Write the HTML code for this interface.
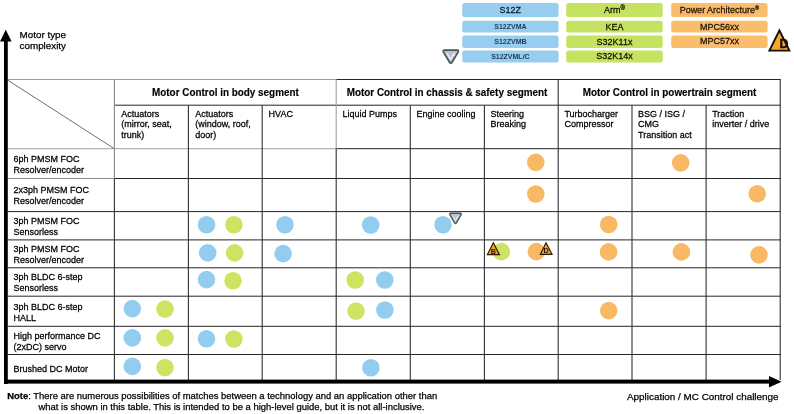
<!DOCTYPE html>
<html><head><meta charset="utf-8"><style>
html,body{margin:0;padding:0;background:#fff;}
body{width:794px;height:414px;overflow:hidden;position:relative;}
svg{position:absolute;left:0;top:0;filter:blur(0.3px);}
text{font-family:"Liberation Sans",sans-serif;}
</style></head><body>
<svg width="794" height="414" viewBox="0 0 794 414">

<g>
<rect x="462.2" y="3.1" width="96.4" height="14.0" rx="2.5" fill="#97cdee"/>
<rect x="462.2" y="20.8" width="96.4" height="11.6" rx="2.5" fill="#97cdee"/>
<rect x="462.2" y="35.6" width="96.4" height="12.3" rx="2.5" fill="#97cdee"/>
<rect x="462.2" y="50.6" width="96.4" height="11.8" rx="2.5" fill="#97cdee"/>
<rect x="566.2" y="3.1" width="96.5" height="14.0" rx="2.5" fill="#c5e260"/>
<rect x="566.2" y="20.8" width="96.5" height="11.6" rx="2.5" fill="#c5e260"/>
<rect x="566.2" y="35.6" width="96.5" height="12.3" rx="2.5" fill="#c5e260"/>
<rect x="566.2" y="50.6" width="96.5" height="11.8" rx="2.5" fill="#c5e260"/>
<rect x="671.2" y="3.1" width="96.4" height="14.0" rx="2.5" fill="#fabd6c"/>
<rect x="671.2" y="20.8" width="96.4" height="11.6" rx="2.5" fill="#fabd6c"/>
<rect x="671.2" y="35.6" width="96.4" height="12.3" rx="2.5" fill="#fabd6c"/>
</g>
<g fill="#0a2238" stroke="#0a2238" stroke-width="0.25" text-anchor="middle">
<text transform="translate(510.2,13.0) scale(1,1.08)" font-size="9">S12Z</text>
<text x="510.4" y="28.8" font-size="7" font-weight="bold" stroke-width="0" fill="#1c3a58" class="ns">S12ZVMA</text>
<text x="510.4" y="43.9" font-size="7" font-weight="bold" stroke-width="0" fill="#1c3a58" class="ns">S12ZVMB</text>
<text x="510.4" y="58.8" font-size="7" font-weight="bold" stroke-width="0" fill="#1c3a58" class="ns">S12ZVML/C</text>
</g>
<g fill="#0f1205" stroke="#0f1205" stroke-width="0.25" text-anchor="middle" font-size="9">
<text transform="translate(614.5,12.8) scale(1,1.08)">Arm<tspan font-size="6" dy="-2.3">®</tspan></text>
<text transform="translate(614.5,29.5) scale(1,1.08)">KEA</text>
<text transform="translate(614.5,44.6) scale(1,1.08)">S32K11x</text>
<text transform="translate(614.5,59.2) scale(1,1.08)">S32K14x</text>
</g>
<g fill="#1f1206" stroke="#1f1206" stroke-width="0.25" text-anchor="middle" font-size="9">
<text transform="translate(719.4,12.8) scale(1,1.08)">Power Architecture<tspan font-size="5.5" dy="-2.8">®</tspan></text>
<line x1="680" y1="14.1" x2="754" y2="14.1" stroke="#e05040" stroke-width="0.8" stroke-dasharray="1 1.2" opacity="0.55"/>
<text transform="translate(719.4,29.6) scale(1,1.08)">MPC56xx</text>
<text transform="translate(719.4,44.3) scale(1,1.08)">MPC57xx</text>
</g>
<g fill="none">
<line x1="8" y1="79.5" x2="336.2" y2="79.5" stroke="#a0a0a0" stroke-width="1.0"/>
<line x1="336.2" y1="79.5" x2="780.7" y2="79.5" stroke="#262626" stroke-width="1.0"/>
<line x1="114.4" y1="105.2" x2="780.7" y2="105.2" stroke="#262626" stroke-width="1.0"/>
<line x1="8" y1="148.7" x2="336.2" y2="148.7" stroke="#a0a0a0" stroke-width="1.0"/>
<line x1="336.2" y1="148.7" x2="780.7" y2="148.7" stroke="#262626" stroke-width="1.0"/>
<line x1="8" y1="178.5" x2="114.4" y2="178.5" stroke="#8a8a8a" stroke-width="1.0"/>
<line x1="114.4" y1="178.5" x2="780.7" y2="178.5" stroke="#262626" stroke-width="1.0"/>
<line x1="8" y1="211.6" x2="780.7" y2="211.6" stroke="#262626" stroke-width="1.0"/>
<line x1="8" y1="239.9" x2="780.7" y2="239.9" stroke="#262626" stroke-width="1.0"/>
<line x1="8" y1="267.8" x2="780.7" y2="267.8" stroke="#262626" stroke-width="1.0"/>
<line x1="8" y1="296.2" x2="780.7" y2="296.2" stroke="#262626" stroke-width="1.0"/>
<line x1="8" y1="326.3" x2="780.7" y2="326.3" stroke="#262626" stroke-width="1.0"/>
<line x1="8" y1="354.5" x2="780.7" y2="354.5" stroke="#262626" stroke-width="1.0"/>
<line x1="114.4" y1="79.5" x2="114.4" y2="178.5" stroke="#8a8a8a" stroke-width="1.1"/>
<line x1="114.4" y1="178.5" x2="114.4" y2="380" stroke="#323232" stroke-width="1.1"/>
<line x1="188.4" y1="105.2" x2="188.4" y2="380" stroke="#323232" stroke-width="1.1"/>
<line x1="262.2" y1="105.2" x2="262.2" y2="380" stroke="#323232" stroke-width="1.1"/>
<line x1="336.2" y1="79.5" x2="336.2" y2="148.7" stroke="#a0a0a0" stroke-width="1.1"/>
<line x1="336.2" y1="148.7" x2="336.2" y2="380" stroke="#323232" stroke-width="1.1"/>
<line x1="410.3" y1="105.2" x2="410.3" y2="380" stroke="#323232" stroke-width="1.1"/>
<line x1="484.4" y1="105.2" x2="484.4" y2="380" stroke="#323232" stroke-width="1.1"/>
<line x1="632" y1="105.2" x2="632" y2="380" stroke="#323232" stroke-width="1.1"/>
<line x1="706.1" y1="105.2" x2="706.1" y2="380" stroke="#323232" stroke-width="1.1"/>
<line x1="558.2" y1="79.5" x2="558.2" y2="380" stroke="#323232" stroke-width="1.1"/>
<line x1="780.2" y1="79.5" x2="780.2" y2="380" stroke="#323232" stroke-width="1.1"/>
<line x1="8" y1="80.3" x2="114" y2="148.5" stroke="#707070" stroke-width="1"/>
</g>
<rect x="4" y="40" width="3.8" height="344" fill="#000"/>
<polygon points="0,41.6 5.8,29.8 11.6,41.6" fill="#000"/>
<rect x="4" y="379.6" width="768" height="4" fill="#000"/>
<polygon points="769,376 781.6,381.7 769,387.4" fill="#000"/>
<circle cx="535.8" cy="162.2" r="8.8" fill="#f9b964"/>
<circle cx="680.7" cy="162.9" r="8.8" fill="#f9b964"/>
<circle cx="535.8" cy="194" r="8.8" fill="#f9b964"/>
<circle cx="757.2" cy="193.8" r="8.8" fill="#f9b964"/>
<circle cx="206.5" cy="224.8" r="8.8" fill="#92cdf0"/>
<circle cx="233.9" cy="224.8" r="8.8" fill="#cde462"/>
<circle cx="285" cy="224.8" r="8.8" fill="#92cdf0"/>
<circle cx="370.7" cy="225" r="8.8" fill="#92cdf0"/>
<circle cx="443" cy="224.8" r="8.8" fill="#92cdf0"/>
<circle cx="608.7" cy="224.5" r="8.8" fill="#f9b964"/>
<circle cx="207.7" cy="252.9" r="8.8" fill="#92cdf0"/>
<circle cx="234.6" cy="252.9" r="8.8" fill="#cde462"/>
<circle cx="283.1" cy="253.6" r="8.8" fill="#92cdf0"/>
<circle cx="501.4" cy="251.6" r="8.8" fill="#cde462"/>
<circle cx="536.4" cy="251.6" r="8.8" fill="#f9b964"/>
<circle cx="608.6" cy="251.9" r="8.8" fill="#f9b964"/>
<circle cx="681.4" cy="251.9" r="8.8" fill="#f9b964"/>
<circle cx="759" cy="254.9" r="8.8" fill="#f9b964"/>
<circle cx="206.5" cy="279.6" r="8.8" fill="#92cdf0"/>
<circle cx="233" cy="280.7" r="8.8" fill="#cde462"/>
<circle cx="355.2" cy="280" r="8.8" fill="#cde462"/>
<circle cx="384.8" cy="280" r="8.8" fill="#92cdf0"/>
<circle cx="132.3" cy="308.6" r="8.8" fill="#92cdf0"/>
<circle cx="165" cy="309" r="8.8" fill="#cde462"/>
<circle cx="356" cy="311.1" r="8.8" fill="#cde462"/>
<circle cx="384.9" cy="310" r="8.8" fill="#92cdf0"/>
<circle cx="608.7" cy="310.6" r="8.8" fill="#f9b964"/>
<circle cx="132.3" cy="337.9" r="8.8" fill="#92cdf0"/>
<circle cx="165" cy="337.9" r="8.8" fill="#cde462"/>
<circle cx="206.5" cy="338.8" r="8.8" fill="#92cdf0"/>
<circle cx="233.9" cy="339" r="8.8" fill="#cde462"/>
<circle cx="132.3" cy="366.4" r="8.8" fill="#92cdf0"/>
<circle cx="165" cy="367.6" r="8.8" fill="#cde462"/>
<circle cx="370.9" cy="367.8" r="8.8" fill="#92cdf0"/>
<g font-size="9.9" font-weight="bold" fill="#000" stroke="#000" stroke-width="0.15" text-anchor="middle">
<text transform="translate(225.4,96.4) scale(1,1.08)">Motor Control in body segment</text>
<text transform="translate(447,96.4) scale(1,1.08)">Motor Control in chassis &amp; safety segment</text>
<text transform="translate(669.5,96.4) scale(1,1.08)">Motor Control in powertrain segment</text>
</g>
<g font-size="9" fill="#000" stroke="#000" stroke-width="0.25">
<text transform="translate(121.2,116.8) scale(1,1.08)">Actuators</text>
<text transform="translate(121.2,127.2) scale(1,1.08)">(mirror, seat,</text>
<text transform="translate(121.2,137.6) scale(1,1.08)">trunk)</text>
<text transform="translate(195.2,116.8) scale(1,1.08)">Actuators</text>
<text transform="translate(195.2,127.2) scale(1,1.08)">(window, roof,</text>
<text transform="translate(195.2,137.6) scale(1,1.08)">door)</text>
<text transform="translate(268.6,116.8) scale(1,1.08)">HVAC</text>
<text transform="translate(342.4,116.8) scale(1,1.08)">Liquid Pumps</text>
<text transform="translate(416.4,116.8) scale(1,1.08)">Engine cooling</text>
<text transform="translate(490.4,116.8) scale(1,1.08)">Steering</text>
<text transform="translate(490.4,127.2) scale(1,1.08)">Breaking</text>
<text transform="translate(564.4,116.8) scale(1,1.08)">Turbocharger</text>
<text transform="translate(564.4,127.2) scale(1,1.08)">Compressor</text>
<text transform="translate(638.1,116.8) scale(1,1.08)">BSG / ISG /</text>
<text transform="translate(638.1,127.2) scale(1,1.08)">CMG</text>
<text transform="translate(638.1,137.6) scale(1,1.08)">Transition act</text>
<text transform="translate(712.2,116.8) scale(1,1.08)">Traction</text>
<text transform="translate(712.2,127.2) scale(1,1.08)">inverter / drive</text>
<text transform="translate(13.6,161.6) scale(1,1.08)">6ph PMSM FOC</text>
<text transform="translate(13.6,172.5) scale(1,1.08)">Resolver/encoder</text>
<text transform="translate(13.6,192.7) scale(1,1.08)">2x3ph PMSM FOC</text>
<text transform="translate(13.6,203.6) scale(1,1.08)">Resolver/encoder</text>
<text transform="translate(13.6,223.6) scale(1,1.08)">3ph PMSM FOC</text>
<text transform="translate(13.6,234.5) scale(1,1.08)">Sensorless</text>
<text transform="translate(13.6,251.6) scale(1,1.08)">3ph PMSM FOC</text>
<text transform="translate(13.6,262.5) scale(1,1.08)">Resolver/encoder</text>
<text transform="translate(13.6,279.6) scale(1,1.08)">3ph BLDC 6-step</text>
<text transform="translate(13.6,290.5) scale(1,1.08)">Sensorless</text>
<text transform="translate(13.6,309.6) scale(1,1.08)">3ph BLDC 6-step</text>
<text transform="translate(13.6,320.5) scale(1,1.08)">HALL</text>
<text transform="translate(13.6,338.9) scale(1,1.08)">High performance DC</text>
<text transform="translate(13.6,349.8) scale(1,1.08)">(2xDC) servo</text>
<text transform="translate(13.6,371.7) scale(1,1.08)">Brushed DC Motor</text>
</g>
<g font-size="9.6" fill="#000" stroke="#000" stroke-width="0.25">
<text x="19.6" y="37.8" font-size="9.8" textLength="46.4" lengthAdjust="spacingAndGlyphs">Motor type</text>
<text x="19.6" y="49.3" font-size="9.8" textLength="46.4" lengthAdjust="spacingAndGlyphs">complexity</text>
<text class="ns" x="627" y="400.2" font-size="9.9">Application / MC Control challenge</text>
</g>
<g font-size="9.45" fill="#000" stroke="#000" stroke-width="0.25">
<text class="ns" x="7.2" y="398.8"><tspan font-weight="bold">Note</tspan>: There are numerous possibilities of matches between a technology and an application other than</text>
<text class="ns" x="38.5" y="409.6">what is shown in this table. This is intended to be a high-level guide, but it is not all-inclusive.</text>
</g>
<g><path d="M444.416,50.2 L457.18399999999997,50.2 Q459.2,50.2 457.99039999999997,52.41760000000001 L452.0096,62.1856 Q450.79999999999995,64.0 449.59039999999993,62.1856 L443.6096,52.41760000000001 Q442.4,50.2 444.416,50.2 Z" fill="#bcc4ca" stroke="#465656" stroke-width="1.7" stroke-linejoin="round"/><path d="M447.104,53.236000000000004 L450.46399999999994,59.584 L454.496,53.236000000000004" fill="none" stroke="#f4f6f7" stroke-width="1.18"/><path d="M451.808,55.996 L454.832,54.892" fill="none" stroke="#f4f6f7" stroke-width="1.01"/></g>
<g><path d="M450.712,213.2 L460.288,213.2 Q461.8,213.2 460.8928,214.86319999999998 L456.4072,222.83919999999998 Q455.5,224.2 454.5928,222.83919999999998 L450.1072,214.86319999999998 Q449.2,213.2 450.712,213.2 Z" fill="#bcc4ca" stroke="#465656" stroke-width="1.4" stroke-linejoin="round"/><path d="M452.728,215.61999999999998 L455.248,220.67999999999998 L458.272,215.61999999999998" fill="none" stroke="#f4f6f7" stroke-width="0.88"/><path d="M456.25600000000003,217.82 L458.524,216.94" fill="none" stroke="#f4f6f7" stroke-width="0.76"/></g>
<polygon points="493.3,242.8 499.4,254.6 487.4,254.6" fill="#f2a626" stroke="#2a1c08" stroke-width="1.2" stroke-linejoin="miter"/><text x="493.4" y="253.6" font-family="Liberation Serif" font-weight="bold" font-size="7.2" fill="#2a1505" text-anchor="middle">B</text>
<polygon points="546,242.8 552.0,254.3 540.4,254.3" fill="#f2a626" stroke="#2a1c08" stroke-width="1.2" stroke-linejoin="miter"/><text x="546.2" y="253.4" font-family="Liberation Serif" font-weight="bold" font-size="7.2" fill="#2a1505" text-anchor="middle">D</text>
<polygon points="779.4,30.4 789.4,50.6 769.4,50.6" fill="#f5a823" stroke="#111" stroke-width="1.9" stroke-linejoin="miter"/><text x="784.2" y="48" font-family="Liberation Serif" font-weight="bold" font-size="11.5" fill="#2a1505" text-anchor="middle"></text>
<text x="779.6" y="47.8" font-family="Liberation Serif" font-weight="bold" font-size="12.5" fill="#1a0d05" stroke="#1a0d05" stroke-width="0.3">D</text>
</svg>
</body></html>
